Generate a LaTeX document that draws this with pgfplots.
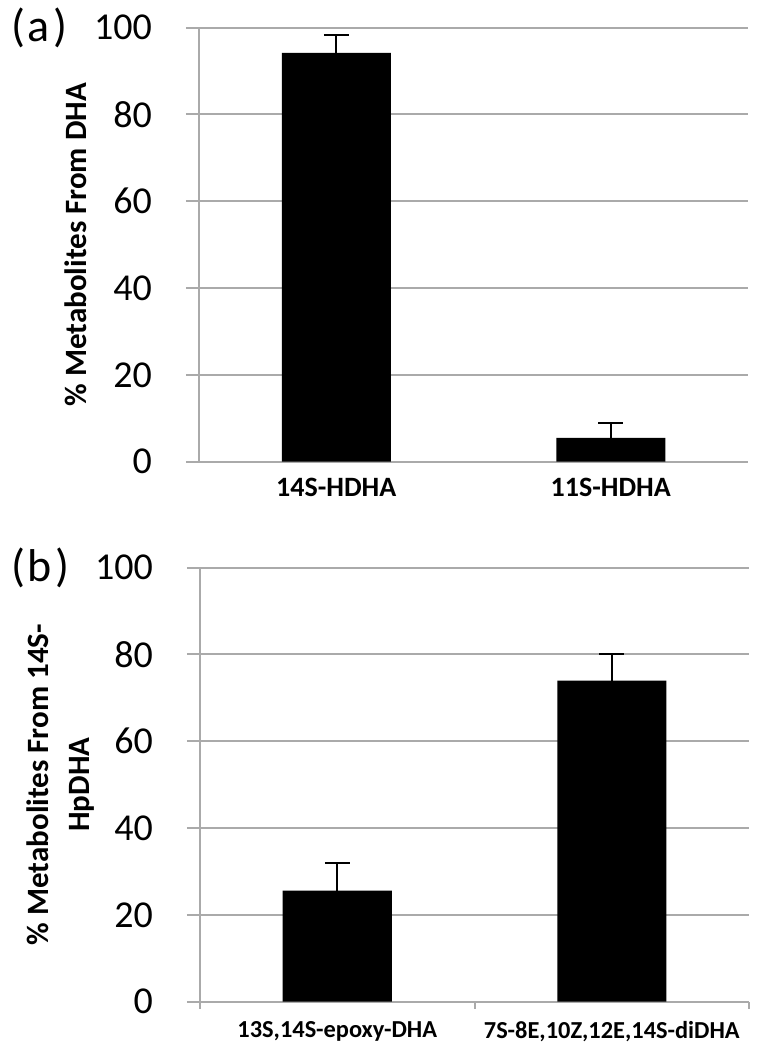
\documentclass[border=0pt]{standalone}
\usepackage{fontspec}
\setmainfont{Carlito}
\usepackage{pgfplots}
\pgfplotsset{compat=1.18}
\definecolor{axgray}{RGB}{170,170,170}
\begin{document}
\begin{tikzpicture}
\useasboundingbox (0,0) rectangle (384pt,525pt);
\pgfplotsset{
  mybar/.style={
    scale only axis, width=274.5pt, height=217pt,
    anchor=south west,
    axis lines*=left,
    ymin=0, ymax=100, ytick={0,20,...,100},
    xmin=-0.5, xmax=1.5, xtick={0,1},
    ymajorgrids, grid style={axgray, line width=1pt},
    axis line style={axgray, line width=1pt},
    tick align=outside,
    major tick length=6.5pt,
    ytick style={axgray, line width=1pt},
    xtick style={draw=none},
    /pgf/number format/assume math mode=true,
    yticklabel style={font=\fontsize{19}{21}\selectfont, xshift=-13.5pt},
    clip=false,
    ybar, bar width=54.5pt,
  },
  errs/.style={fill=black, draw=none,
    error bars/.cd, y dir=plus, y explicit,
    error bar style={draw=black, line width=1pt},
    error mark options={draw=black, rotate=90, mark size=6.25pt, line width=1pt}},
}
\begin{axis}[mybar, at={(99.5pt,294.15pt)},
  xticklabels={14S-HDHA,11S-HDHA},
  xticklabel style={font=\bfseries\fontsize{14}{16}\selectfont, yshift=2pt},
  ylabel={\% Metabolites From DHA},
  ylabel style={font=\bfseries\fontsize{15.5}{18}\selectfont, at={(axis description cs:-0.2254,0.5)}, anchor=center},
]
\addplot[errs] coordinates {(0,94.2) +- (0,4.1) (1,5.5) +- (0,3.5)};
\end{axis}
\begin{axis}[mybar, at={(100pt,24.15pt)},
  xticklabels={{13S,14S-epoxy-DHA},{7S-8E,10Z,12E,14S-diDHA}},
  xticklabel style={font=\bfseries\fontsize{12.2}{14}\selectfont},
  extra x ticks={-0.5,0.5,1.5}, extra x tick labels={},
  extra x tick style={major tick length=3.5pt, xtick style={draw=axgray, line width=1pt}},
  ylabel={\% Metabolites From 14S-\\HpDHA},
  ylabel style={font=\bfseries\fontsize{15.5}{20.5}\selectfont, align=center, at={(axis description cs:-0.2546,0.5)}, anchor=center},
]
\addplot[errs] coordinates {(0,25.6) +- (0,6.4) (1,74.0) +- (0,6.2)};
\end{axis}
\node[anchor=west, font=\fontsize{23}{26}\selectfont] at (2pt,511pt) {(\kern1.5pt a\kern1.5pt)};
\node[anchor=west, font=\fontsize{23}{26}\selectfont] at (2pt,241pt) {(\kern1.5pt b\kern1.5pt)};
\end{tikzpicture}
\end{document}
